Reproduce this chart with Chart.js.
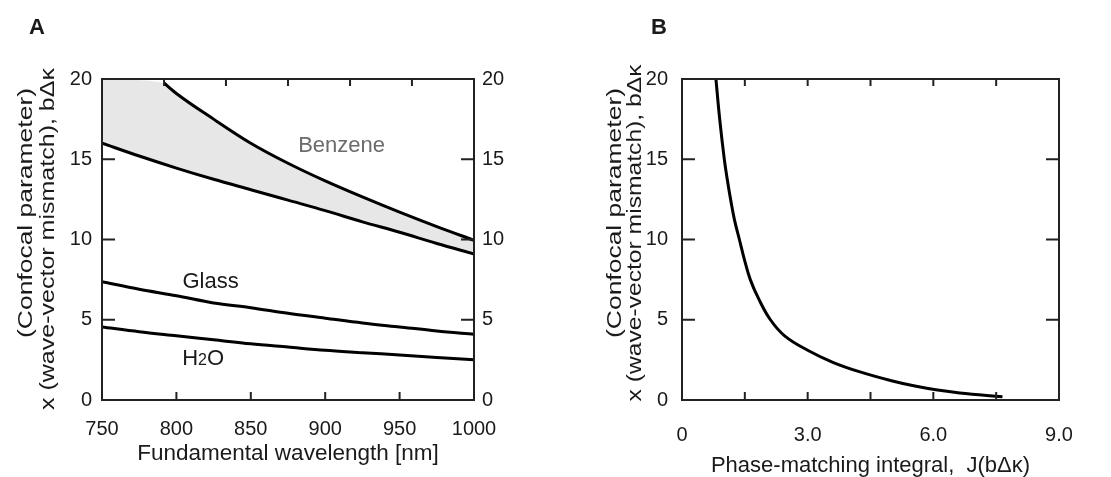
<!DOCTYPE html>
<html>
<head>
<meta charset="utf-8">
<script src="https://cdn.jsdelivr.net/npm/chart.js@4/dist/chart.umd.min.js"></script>
<style>
  html, body { margin: 0; padding: 0; background: #fff; }
  #panelA { position: absolute; left: 0; top: 0; }
  #panelB { position: absolute; left: 560px; top: 0; }
</style>
</head>
<body>
<canvas id="panelA" width="560" height="477"></canvas>
<canvas id="panelB" width="551" height="477"></canvas>
<script>
// ---- panel A: fundamental wavelength (nm) vs b*dk ----
const wavelengthNm = [750, 775, 800, 825, 850, 875, 900, 925, 950, 975, 1000];
const benzeneLow = [16.0, 15.2, 14.45, 13.75, 13.1, 12.45, 11.8, 11.1, 10.45, 9.75, 9.1];
const glass = [7.37, 6.9, 6.5, 6.05, 5.75, 5.4, 5.1, 4.8, 4.55, 4.3, 4.1];
const water = [4.55, 4.25, 4.0, 3.75, 3.5, 3.3, 3.1, 2.95, 2.8, 2.65, 2.5];
const benzeneHighNm = [791.7, 800, 825, 850, 875, 900, 925, 950, 975, 1000];
const benzeneHigh = [19.75, 19.1, 17.5, 16.0, 14.75, 13.65, 12.65, 11.7, 10.8, 9.95];
// shaded band is closed against the top of the axis left of the upper curve
const bandTopNm = [750].concat(benzeneHighNm);
const bandTop = [20].concat(benzeneHigh);

// ---- panel B: phase-matching integral J vs b*dk ----
const phaseJ = [0.81, 0.9, 1.01, 1.08, 1.16, 1.25, 1.37, 1.49, 1.63, 1.84, 2.11, 2.45, 3.0, 3.6, 4.25, 5.0, 5.56, 6.1, 6.63, 7.65];
const phaseBdk = [20, 17.5, 15, 13.75, 12.5, 11.25, 10, 8.75, 7.5, 6.25, 5, 4, 3.1, 2.35, 1.75, 1.2, 0.87, 0.62, 0.44, 0.2];

// ---- ticks ----
const yTickMarks = [5, 10, 15];
const xTickMarksA = [800, 850, 900, 950];
const topTickMarksA = [791.7, 833.3, 875, 916.7, 958.3];
const xTickMarksB = [1.5, 3, 4.5, 6, 7.5];
const xLabelsB = ['0', '', '3.0', '', '6.0', '', '9.0'];

const FONT = "'Liberation Sans', Arial, Helvetica, sans-serif";
Chart.defaults.font.family = FONT;
Chart.defaults.color = '#1a1a1a';
Chart.defaults.animation = false;

function pts(xs, ys) {
  return xs.map((x, i) => ({ x: x, y: ys[i] }));
}

function curve(data, extra) {
  return Object.assign({
    data: data,
    borderColor: '#000',
    borderWidth: 3,
    pointRadius: 0,
    fill: false,
    cubicInterpolationMode: 'monotone'
  }, extra || {});
}

// frame, inward ticks, rotated y titles, panel letter and in-plot labels
const decorPlugin = {
  id: 'decor',
  afterDatasetsDraw(chart, args, opts) {
    const { ctx, chartArea: a, scales } = chart;
    ctx.save();
    ctx.strokeStyle = '#222';
    ctx.lineWidth = 2;
    ctx.strokeRect(a.left, a.top, a.right - a.left, a.bottom - a.top);
    ctx.beginPath();
    opts.bottom.forEach(v => {
      const px = scales.x.getPixelForValue(v);
      ctx.moveTo(px, a.bottom); ctx.lineTo(px, a.bottom - 8);
    });
    opts.top.forEach(v => {
      const px = scales.x.getPixelForValue(v);
      ctx.moveTo(px, a.top); ctx.lineTo(px, a.top + 7);
    });
    opts.side.forEach(v => {
      const py = scales.y.getPixelForValue(v);
      ctx.moveTo(a.left, py); ctx.lineTo(a.left + 13, py);
      ctx.moveTo(a.right, py); ctx.lineTo(a.right - 13, py);
    });
    ctx.stroke();

    // y-axis title, stretched along its length like the original artwork
    ctx.fillStyle = '#1a1a1a';
    ctx.font = '20px ' + FONT;
    opts.yTitle.forEach(t => {
      ctx.save();
      ctx.translate(t.x, t.y);
      ctx.rotate(-Math.PI / 2);
      const w = ctx.measureText(t.text).width;
      ctx.scale(t.len / w, 1);
      ctx.textAlign = 'center';
      ctx.textBaseline = 'alphabetic';
      ctx.fillText(t.text, 0, 0);
      ctx.restore();
    });

    ctx.font = 'bold 22px ' + FONT;
    ctx.textAlign = 'center';
    ctx.textBaseline = 'middle';
    ctx.fillText(opts.letter.text, opts.letter.x, opts.letter.y);

    (opts.notes || []).forEach(n => {
      const px = scales.x.getPixelForValue(n.x);
      const py = scales.y.getPixelForValue(n.y);
      ctx.fillStyle = n.color || '#1a1a1a';
      ctx.textBaseline = 'alphabetic';
      ctx.textAlign = 'left';
      // parts: [text, size]; a smaller part is used for the H2O digit
      const parts = n.parts;
      let total = 0;
      parts.forEach(p => { ctx.font = p[1] + 'px ' + FONT; total += ctx.measureText(p[0]).width; });
      let cx = px - total / 2;
      const base = py + 8;
      parts.forEach(p => {
        ctx.font = p[1] + 'px ' + FONT;
        ctx.fillText(p[0], cx, base);
        cx += ctx.measureText(p[0]).width;
      });
    });
    ctx.restore();
  }
};

const tickFont = { size: 20 };
const noGrid = { display: false, drawTicks: false };

new Chart(document.getElementById('panelA'), {
  type: 'line',
  data: {
    datasets: [
      curve(pts(bandTopNm, bandTop), { borderWidth: 0, borderColor: 'rgba(0,0,0,0)', backgroundColor: '#e7e7e7', fill: 1 }),
      curve(pts(wavelengthNm, benzeneLow)),
      curve(pts(benzeneHighNm, benzeneHigh)),
      curve(pts(wavelengthNm, glass)),
      curve(pts(wavelengthNm, water))
    ]
  },
  options: {
    responsive: false,
    layout: { padding: { top: 79, left: 0, right: 0, bottom: 0 } },
    plugins: {
      legend: { display: false },
      tooltip: { enabled: false },
      filler: { drawTime: 'beforeDatasetsDraw' },
      decor: {
        bottom: xTickMarksA,
        top: topTickMarksA,
        side: yTickMarks,
        yTitle: [
          { text: '(Confocal parameter)', x: 32, y: 213, len: 250 },
          { text: 'x (wave-vector mismatch), b\u0394\u03ba', x: 54, y: 239, len: 342 }
        ],
        letter: { text: 'A', x: 37, y: 28 },
        notes: [
          { parts: [['Benzene', 22]], x: 911, y: 15.95, color: '#6b6b6b' },
          { parts: [['Glass', 22]], x: 823, y: 7.5 },
          { parts: [['H', 22], ['2', 16], ['O', 22]], x: 818, y: 2.68 }
        ]
      }
    },
    scales: {
      x: {
        type: 'linear', min: 750, max: 1000,
        afterFit: s => { s.height = 77; },
        grid: noGrid, border: { display: false },
        ticks: { stepSize: 50, padding: 17, maxRotation: 0, autoSkip: false, font: tickFont, callback: v => String(v) },
        title: { display: true, text: 'Fundamental wavelength [nm]', font: { size: 22.5 }, padding: { top: 0, bottom: 10 } }
      },
      y: {
        position: 'left', min: 0, max: 20,
        afterFit: s => { s.width = 102; },
        grid: noGrid, border: { display: false },
        ticks: { stepSize: 5, padding: 10, font: tickFont }
      },
      y2: {
        position: 'right', min: 0, max: 20,
        afterFit: s => { s.width = 86; },
        grid: noGrid, border: { display: false },
        ticks: { stepSize: 5, padding: 8, font: tickFont }
      }
    }
  },
  plugins: [decorPlugin]
});

new Chart(document.getElementById('panelB'), {
  type: 'line',
  data: {
    // steep branch: a parametric spline bends more smoothly than the monotone one
    datasets: [curve(pts(phaseJ, phaseBdk), { cubicInterpolationMode: 'default', tension: 0.4 })]
  },
  options: {
    responsive: false,
    layout: { padding: { top: 79, left: 0, right: 52, bottom: 0 } },
    plugins: {
      legend: { display: false },
      tooltip: { enabled: false },
      decor: {
        bottom: xTickMarksB,
        top: xTickMarksB,
        side: yTickMarks,
        yTitle: [
          { text: '(Confocal parameter)', x: 61, y: 213, len: 250 },
          { text: 'x (wave-vector mismatch), b\u0394\u03ba', x: 81, y: 233, len: 337 }
        ],
        letter: { text: 'B', x: 99, y: 28 }
      }
    },
    scales: {
      x: {
        type: 'linear', min: 0, max: 9,
        afterFit: s => { s.height = 77; },
        grid: noGrid, border: { display: false },
        ticks: {
          stepSize: 1.5, padding: 23, maxRotation: 0, autoSkip: false, font: tickFont,
          callback: (v, i) => xLabelsB[i]
        },
        title: { display: true, text: 'Phase-matching integral,  J(b\u0394\u03ba)', font: { size: 22, lineHeight: 1.05 }, padding: 0 }
      },
      y: {
        position: 'left', min: 0, max: 20,
        afterFit: s => { s.width = 122; },
        grid: noGrid, border: { display: false },
        ticks: { stepSize: 5, padding: 14, font: tickFont }
      }
    }
  },
  plugins: [decorPlugin]
});
</script>
</body>
</html>
